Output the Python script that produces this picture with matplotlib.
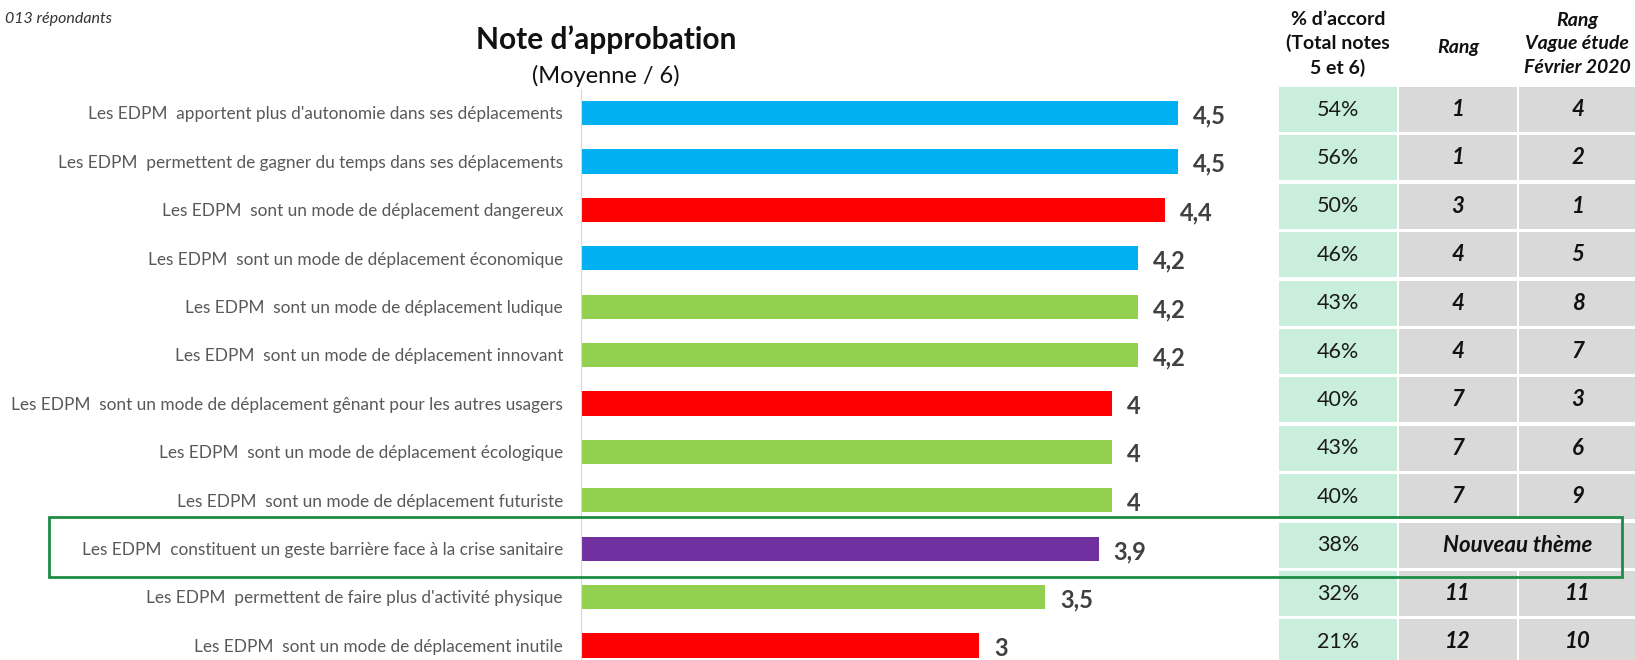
import matplotlib.pyplot as plt
from matplotlib.patches import Rectangle
from matplotlib.transforms import blended_transform_factory

plt.rcParams["font.family"] = ["Lato", "DejaVu Sans"]

labels = [
    "Les EDPM  apportent plus d'autonomie dans ses déplacements",
    "Les EDPM  permettent de gagner du temps dans ses déplacements",
    "Les EDPM  sont un mode de déplacement dangereux",
    "Les EDPM  sont un mode de déplacement économique",
    "Les EDPM  sont un mode de déplacement ludique",
    "Les EDPM  sont un mode de déplacement innovant",
    "Les EDPM  sont un mode de déplacement gênant pour les autres usagers",
    "Les EDPM  sont un mode de déplacement écologique",
    "Les EDPM  sont un mode de déplacement futuriste",
    "Les EDPM  constituent un geste barrière face à la crise sanitaire",
    "Les EDPM  permettent de faire plus d'activité physique",
    "Les EDPM  sont un mode de déplacement inutile",
]
values = [4.5, 4.5, 4.4, 4.2, 4.2, 4.2, 4, 4, 4, 3.9, 3.5, 3]
groups = ["pos", "pos", "neg", "pos", "other", "other", "neg", "other",
          "other", "new", "other", "neg"]
accord = [54, 56, 50, 46, 43, 46, 40, 43, 40, 38, 32, 21]
rang = [1, 1, 3, 4, 4, 4, 7, 7, 7, None, 11, 12]
rang_2020 = [4, 2, 1, 5, 8, 7, 3, 6, 9, None, 11, 10]
new_label = "Nouveau thème"

colors = {"pos": "#00B0F0", "neg": "#FF0000", "other": "#92D050", "new": "#7030A0"}

W, H = 1635, 660
fig = plt.figure(figsize=(W / 100, H / 100), dpi=100)

# bar axes: zero at x=581px, 132.7 px per unit, rows every 48.4 px
x0, ppu = 581, 132.7
row_h = 48.4
top_px = 113 - 0.5 * row_h
n_rows = (H - top_px) / row_h
ax_right = 1279
ax = fig.add_axes([x0 / W, 0, (ax_right - x0) / W, (H - top_px) / H])
ax.set_xlim(0, (ax_right - x0) / ppu)
ax.set_ylim(-0.5 + n_rows, -0.5)

rows = list(range(len(values)))
ax.barh(rows, values, height=0.5, color=[colors[g] for g in groups])
for r, v in zip(rows, values):
    txt = f"{v:g}".replace(".", ",")
    ax.text(v + 15 / ppu, r + 0.06, txt, ha="left", va="center",
            fontsize=17, fontweight="bold", color="#404040")

ax.set_yticks(rows)
ax.set_yticklabels(labels, fontsize=12.4, color="#595959")
ax.tick_params(axis="y", length=0, pad=13)
ax.set_xticks([])
for s in ["top", "right", "bottom"]:
    ax.spines[s].set_visible(False)
ax.spines["left"].set_color("#D9D9D9")

# table
tab_left, col_pitch, col_w = 1279, 120, 118
tax = fig.add_axes([tab_left / W, 0, 3 * col_pitch / W, (H - top_px) / H])
tax.set_xlim(0, 3)
tax.set_ylim(-0.5 + n_rows, -0.5)
tax.axis("off")
cell_h = 45 / row_h
cell_off = -3.5 / row_h
cw = col_w / col_pitch
rank_kw = dict(ha="center", va="center", fontsize=16, fontweight="bold",
               style="italic", color="#111111")
for r in rows:
    yc = r + cell_off
    tax.add_patch(Rectangle((0, yc - cell_h / 2), cw, cell_h,
                            color="#C9EEDC", lw=0, clip_on=False))
    tax.text(cw / 2, yc, f"{accord[r]}%", ha="center", va="center",
             fontsize=15.5, color="#1a1a1a")
    if rang[r] is None:
        tax.add_patch(Rectangle((1, yc - cell_h / 2), 1 + cw, cell_h,
                                color="#D9D9D9", lw=0, clip_on=False))
        tax.text(1 + (1 + cw) / 2, yc, new_label, **rank_kw)
    else:
        for c, val in ((1, rang[r]), (2, rang_2020[r])):
            tax.add_patch(Rectangle((c, yc - cell_h / 2), cw, cell_h,
                                    color="#D9D9D9", lw=0, clip_on=False))
            tax.text(c + cw / 2, yc, str(val), **rank_kw)

# highlight box around the new item
new_row = groups.index("new")
tr = blended_transform_factory(fig.transFigure, ax.transData)
fig.add_artist(Rectangle((49 / W, new_row - 0.65), (1622 - 49) / W, 1.24,
                         transform=tr, fill=False, ec="#1E8C45", lw=2,
                         zorder=5))

# titles and headers
fig.text(5 / W, 1 - 19 / H, "013 répondants", fontsize=11.5, style="italic",
         color="#333333", va="center")
fig.text(606 / W, 1 - 40 / H, "Note d’approbation", fontsize=21.5,
         fontweight="bold", ha="center", va="center", color="#111111")
fig.text(606 / W, 1 - 76 / H, "(Moyenne / 6)", fontsize=17,
         ha="center", va="center", color="#111111")
fig.text(1338 / W, 1 - 44 / H, "% d’accord\n(Total notes\n5 et 6)",
         fontsize=14, fontweight="bold", ha="center", va="center",
         linespacing=1.45, color="#111111")
fig.text(1458 / W, 1 - 47 / H, "Rang", fontsize=14, fontweight="bold",
         style="italic", ha="center", va="center", color="#111111")
fig.text(1577 / W, 1 - 44 / H, "Rang\nVague étude\nFévrier 2020",
         fontsize=14, fontweight="bold", style="italic", ha="center",
         va="center", linespacing=1.45, color="#111111")

fig.savefig("out.png", dpi=100)
